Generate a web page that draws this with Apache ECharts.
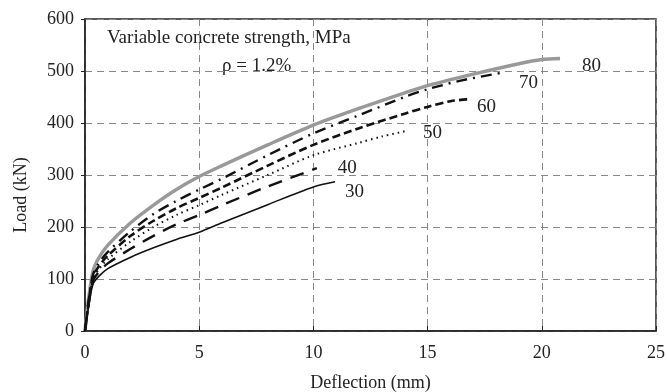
<!DOCTYPE html>
<html>
<head>
<meta charset="utf-8">
<script src="https://cdn.jsdelivr.net/npm/echarts@6/dist/echarts.min.js"></script>
<style>
  html, body { margin: 0; padding: 0; background: #fff; }
  #chart { width: 667px; height: 392px; }
</style>
</head>
<body>
<div id="chart"></div>
<script>
// Load-deflection curves, one per concrete strength (MPa)
var strengths = ['30', '40', '50', '60', '70', '80'];

var curve30 = [[0,0],[0.15,45],[0.35,90],[0.6,105],[1,120],[2,142],[3,160],[4,176],[5,190],[6,208],[8,243],[10,277],[10.95,287]];
var curve40 = [[0,0],[0.15,48],[0.35,96],[0.6,113],[1,130],[2,158],[3,183],[4,205],[5,223],[6,242],[8,278],[10.15,313]];
var curve50 = [[0,0],[0.15,50],[0.35,100],[0.6,118],[1,138],[2,172],[3,200],[4,223],[5,242],[6,262],[8,300],[10,338],[12,362],[13,374],[14.1,385]];
var curve60 = [[0,0],[0.15,52],[0.35,104],[0.6,124],[1,145],[2,183],[3,212],[4,236],[5,256],[6,276],[8,318],[10,358],[12,390],[14,418],[15,431],[16,442],[16.9,446]];
var curve70 = [[0,0],[0.15,55],[0.35,108],[0.6,130],[1,152],[2,192],[3,225],[4,250],[5,272],[6,293],[8,338],[10,380],[12,415],[14,450],[15,465],[16.5,482],[18.3,497]];
var curve80 = [[0,0],[0.15,60],[0.35,115],[0.6,140],[1,165],[2,208],[3,242],[4,272],[5,297],[6,318],[8,358],[10,396],[12,428],[14,458],[15,472],[17,494],[19,514],[20,522],[20.8,524]];

var curves = [curve30, curve40, curve50, curve60, curve70, curve80];

var xTicks = [0, 5, 10, 15, 20, 25];
var yTicks = [0, 100, 200, 300, 400, 500, 600];

var font = 'Liberation Serif';

// line look per curve
var styles = [
    { color: '#111', width: 1.6, type: 'solid' },
    { color: '#111', width: 2.4, type: [14, 9] },
    { color: '#111', width: 2, type: [1.5, 4] },
    { color: '#111', width: 2.6, type: [8, 4] },
    { color: '#111', width: 2.4, type: [11, 6, 2, 6] },
    { color: '#999', width: 3.4, type: 'solid' }
];
var labelOffsets = [[2, 10], [13, 0], [8, 2], [-2, 8], [8, 10], [14, 7]];

var series = strengths.map(function (s, i) {
    return {
        name: s,
        type: 'line',
        data: curves[i],
        smooth: 0.3,
        showSymbol: false,
        silent: true,
        lineStyle: styles[i],
        endLabel: {
            show: true,
            formatter: s,
            color: '#222',
            fontFamily: font,
            fontSize: 19,
            offset: labelOffsets[i]
        },
        z: i === 5 ? 1 : 2
    };
});

var myChart = echarts.init(document.getElementById('chart'), null, { renderer: 'canvas' });

myChart.setOption({
    animation: false,
    backgroundColor: '#fff',
    grid: {
        left: 85, right: 11, top: 19, bottom: 61,
        outerBoundsMode: 'none',
        show: true, borderColor: '#222', borderWidth: 1.5, backgroundColor: 'transparent'
    },
    xAxis: {
        type: 'value',
        min: xTicks[0], max: xTicks[xTicks.length - 1], interval: 5,
        name: 'Deflection (mm)',
        nameLocation: 'middle',
        nameGap: 43,
        nameTextStyle: { fontFamily: font, fontSize: 18, color: '#222' },
        axisLine: { lineStyle: { color: '#222', width: 1.5 } },
        axisTick: { show: true, inside: true, length: 5, lineStyle: { color: '#222' } },
        axisLabel: { fontFamily: font, fontSize: 18, color: '#222', margin: 13 },
        splitLine: { lineStyle: { color: '#888', type: [7, 5], width: 1 } }
    },
    yAxis: {
        type: 'value',
        min: yTicks[0], max: yTicks[yTicks.length - 1], interval: 100,
        name: 'Load (kN)',
        nameLocation: 'middle',
        nameGap: 55,
        nameTextStyle: { fontFamily: font, fontSize: 18, color: '#222', padding: [0, 40, 0, 0] },
        axisLine: { show: true, lineStyle: { color: '#222', width: 1.5 } },
        axisTick: { show: true, length: 4, lineStyle: { color: '#222' } },
        axisLabel: { fontFamily: font, fontSize: 18, color: '#222', margin: 11 },
        splitLine: { lineStyle: { color: '#888', type: [7, 5], width: 1 } }
    },
    graphic: [
        {
            type: 'text', left: 107, top: 29,
            style: { text: 'Variable concrete strength, MPa', fontFamily: font, fontSize: 19, fill: '#222' }
        },
        {
            type: 'text', left: 222, top: 57,
            style: { text: 'ρ = 1.2%', fontFamily: font, fontSize: 19, fill: '#222' }
        }
    ],
    series: series
});
</script>
</body>
</html>
